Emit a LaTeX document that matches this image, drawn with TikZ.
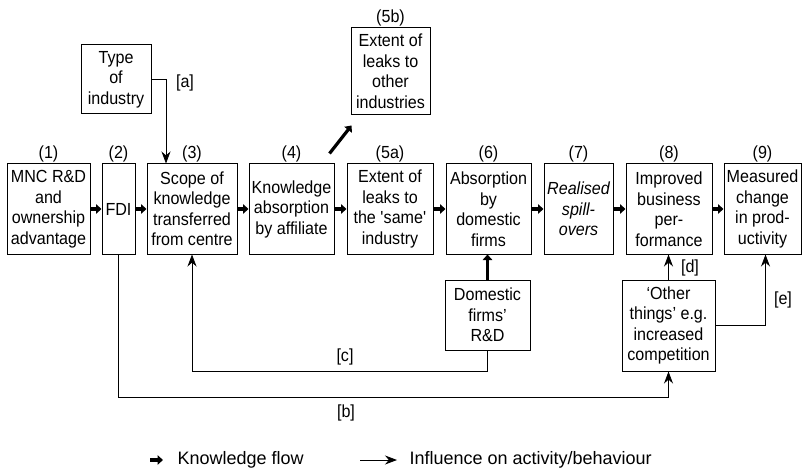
\documentclass[tikz,border=0pt]{standalone}
\usepackage{fontspec}
\setmainfont{Liberation Sans}
\newfontfamily\narrowfont{Liberation Sans}[FakeStretch=0.92]
\usetikzlibrary{arrows.meta}

\begin{document}
\begin{tikzpicture}[x=1pt, y=-1pt,
        blk/.style={draw, line width=1pt, align=center, inner sep=0pt,
            font=\narrowfont\fontsize{17.5}{20.5}\selectfont, minimum height=90pt},
        num/.style={font=\narrowfont\fontsize{17.5}{20}\selectfont, inner sep=1pt},
        kflow/.style={line width=3.2pt, -{Triangle[length=5.5pt, width=9.5pt]}},
        infl/.style={line width=0.8pt, -{Stealth[length=12pt, width=9pt]}}]
        \useasboundingbox (0,0) rectangle (802,470);

        \node[blk, minimum width=83pt, label={[num]above:(1)}] (b1) at (48.5,209) {MNC R\&D\\and\\ownership\\advantage};
        \node[blk, minimum width=33pt, label={[num]above:(2)}] (b2) at (118.5,209) {FDI};
        \node[blk, minimum width=90pt, label={[num]above:(3)}] (b3) at (192,209) {Scope of\\knowledge\\transferred\\from centre};
        \node[blk, minimum width=85pt, label={[num]above:(4)}] (b4) at (291.5,209) {Knowledge\\absorption\\by affiliate};
        \node[blk, minimum width=86pt, label={[num]above:(5a)}] (b5a) at (390,209) {Extent of\\leaks to\\the \textquotesingle same\textquotesingle\\industry};
        \node[blk, minimum width=85pt, label={[num]above:(6)}] (b6) at (488.5,209) {Absorption\\by\\domestic\\firms};
        \node[blk, minimum width=69pt, font=\narrowfont\itshape\fontsize{17.5}{20.5}\selectfont, label={[num]above:(7)}] (b7) at (578.5,209) {Realised\\spill-\\overs};
        \node[blk, minimum width=86pt, label={[num]above:(8)}] (b8) at (669,209) {Improved\\business\\per-\\formance};
        \node[blk, minimum width=77pt, label={[num]above:(9)}] (b9) at (762.5,209) {Measured\\change\\in prod-\\uctivity};

        \node[blk, minimum width=79pt, minimum height=87pt, label={[num]above:(5b)}] (b5b) at (390.5,71.5) {Extent of\\leaks to\\other\\industries};
        \node[blk, minimum width=70pt, minimum height=69pt] (ty) at (116,79.5) {Type\\of\\industry};
        \node[blk, minimum width=85pt, minimum height=70pt] (dom) at (487.5,315) {Domestic\\firms’\\R\&D};
        \node[blk, minimum width=93pt, minimum height=91pt] (oth) at (668.5,325.5) {‘Other\\things’ e.g.\\increased\\competition};

        % knowledge flows
        \foreach \from/\to in {b1/b2, b2/b3, b3/b4, b4/b5a, b5a/b6, b6/b7, b7/b8, b8/b9}
            \draw[kflow] (\from) -- (\to);
        \draw[kflow] ([shift={(-5,-10)}]b4.north east) -- ([shift={(-39,10)}]b5b.south);
        \draw[kflow] (dom.north) -- (dom.north |- b6.south);

        % influences
        \draw[infl] (ty.east) -| ([xshift=-26pt]b3.north);
        \draw[infl] (b2.south) -- ++(0,143) -| (oth.south);
        \draw[infl] (dom.south) -- ++(0,21) -| (b3.south);
        \draw[infl] (oth.north) -- (oth.north |- b8.south);
        \draw[infl] (oth.east) -| ([xshift=3pt]b9.south);

        \node[num] (la) at (185,83) {[a]};
        \node[num] (lb) at (346,413) {[b]};
        \node[num] (lc) at (345,357) {[c]};
        \node[num] (ld) at (690,268) {[d]};
        \node[num] (le) at (783,300) {[e]};

        % legend
        \node[anchor=west, font=\fontsize{18}{20}\selectfont] (lk) at (174,460) {Knowledge flow};
        \draw[kflow] ([xshift=-24pt]lk.west) -- ([xshift=-11pt]lk.west);
        \node[anchor=west, font=\fontsize{18}{20}\selectfont] (li) at (406,460) {Influence on activity/behaviour};
        \draw[infl] ([xshift=-46pt]li.west) -- ([xshift=-9pt]li.west);
\end{tikzpicture}
\end{document}
